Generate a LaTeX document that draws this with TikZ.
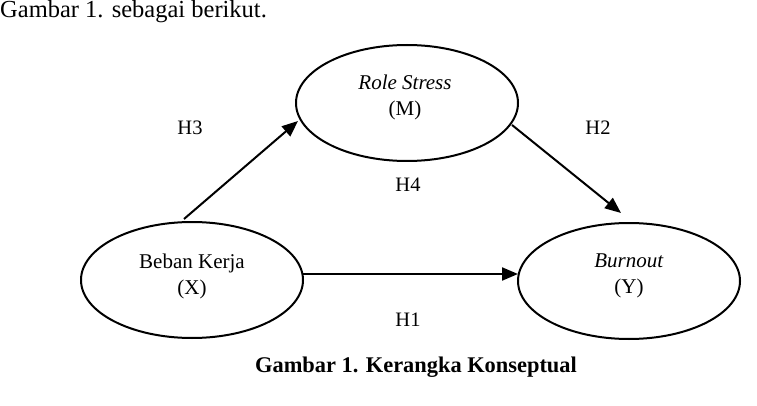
\documentclass[tikz,border=0pt]{standalone}
\usepackage{fontspec}
\setmainfont{Liberation Serif}
\usetikzlibrary{shapes.geometric,arrows.meta}
\tikzset{
  var/.style={draw, ellipse, line width=2pt, minimum width=222pt, minimum height=116pt, inner sep=0pt},
  vtext/.style={align=center, font=\fontsize{21}{26}\selectfont, inner sep=0pt},
  hlabel/.style={font=\fontsize{20.5}{22}\selectfont, inner sep=0pt},
  conn/.style={line width=2pt, -{Triangle[length=16pt,width=13pt]}}
}
\begin{document}
\begin{tikzpicture}[x=1pt,y=-1pt]
\useasboundingbox (0,0) rectangle (757,406);
\node[anchor=west, font=\fontsize{24.5}{28}\selectfont, inner sep=0pt] (intro) at (0,12) {Gambar 1. sebagai berikut.};
\node[var] (M) at (407,103) {};
\node[var] (X) at (192,280) {};
\node[var] (Y) at (629,281) {};
\node[vtext] (Mt) at (405,97) {\textit{Role Stress}\\(M)};
\node[vtext] (Xt) at (192,276) {Beban Kerja\\(X)};
\node[vtext] (Yt) at (629,276) {\textit{Burnout}\\(Y)};
\coordinate (a3) at (184,219);
\coordinate (b3) at (298,121);
\coordinate (a2) at (512,125);
\coordinate (b2) at (621,213);
\coordinate (a1) at (302,274);
\coordinate (b1) at (518,274);
\draw[conn] (a3) -- (b3);
\draw[conn] (a2) -- (b2);
\draw[conn] (a1) -- (b1);
\node[hlabel] (H3) at (190,128) {H3};
\node[hlabel] (H2) at (598,128) {H2};
\node[hlabel] (H4) at (408,185) {H4};
\node[hlabel] (H1) at (408,320) {H1};
\node[font=\bfseries\fontsize{22.4}{26}\selectfont, inner sep=0pt] (cap) at (416,367) {Gambar 1. Kerangka Konseptual};
\end{tikzpicture}
\end{document}
